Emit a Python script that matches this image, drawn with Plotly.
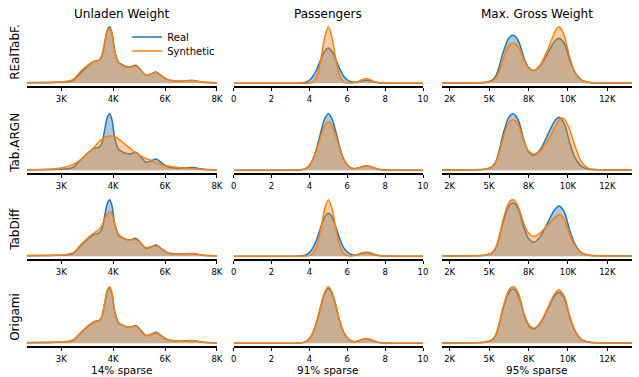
import plotly.graph_objects as go

# ---------------- data ----------------
MODELS = ["REalTabF.", "Tab.ARGN", "TabDiff", "Origami"]
COLUMNS = ["Unladen Weight", "Passengers", "Max. Gross Weight"]
SPARSITY = ["14% sparse", "91% sparse", "95% sparse"]

# Unladen Weight (thousands)
UW_X = [1.4, 2.3, 2.65, 3.0, 3.3, 3.55, 3.75, 3.9, 4.0, 4.1, 4.2, 4.28, 4.36, 4.45,
        4.58, 4.76, 4.96, 5.2, 5.37, 5.54, 5.72, 5.89, 6.06, 6.3, 6.74, 7.15, 7.53, 8.0]
UW_REAL = [0.5, 0.8, 1.0, 2.7, 11, 17.7, 21.7, 22.7, 26, 39, 52.7, 56, 50, 32.7,
           21, 17.7, 16, 17.7, 12.7, 7.7, 9.3, 11, 7.7, 3.3, 2, 2.7, 1, 0.3]
UW_REALTABF = [0.6, 0.9, 1.3, 3.5, 12.5, 18.5, 22, 23, 27, 40, 52, 54.5, 49, 32,
               20.5, 17, 15.5, 17, 12.5, 8, 9, 10.5, 7.5, 3.5, 2.2, 2.6, 1.1, 0.4]
UW_TABARGN = [0.3, 1.2, 2.4, 5.5, 11, 17.5, 23, 28, 30.5, 32.5, 33.8, 34, 34, 33.5,
              31, 27, 22.5, 17, 14, 11.7, 9.7, 7.5, 5.7, 4.2, 2.3, 1.4, 0.8, 0.3]
UW_TABDIFF = [0.6, 0.9, 1.2, 3.2, 12, 19, 23.5, 26, 30, 37, 42, 43.8, 42, 32,
              22, 18, 16, 16.5, 12.5, 8.5, 9.5, 10, 7.5, 3.5, 2.2, 2.3, 1, 0.3]
UW_ORIGAMI = [0.6, 0.9, 1.1, 3.0, 11.5, 18, 22, 23, 26.5, 40, 54, 57, 50.5, 32.5,
              20.5, 17.5, 16, 17, 12, 7.5, 8.8, 10.2, 7.4, 3.4, 2, 2.4, 1, 0.4]
UW_TICKS = [2.6, 4.4, 6.2, 8.0]
UW_TICKTEXT = ["3K", "4K", "6K", "8K"]

# Passengers
PS_X = [0, 1, 2, 3, 3.5, 3.8, 4.0, 4.2, 4.4, 4.6, 4.8, 5.0, 5.2, 5.4, 5.6, 5.8, 6.0,
        6.2, 6.4, 6.6, 6.8, 7.0, 7.2, 7.4, 7.6, 7.8, 8.0, 8.5, 9, 10]
PS_REAL = [0, 0, 0, 0.05, 0.2, 1.6, 4.7, 11.5, 23, 37.7, 50.7, 56, 50.7, 37.7, 23, 11.5, 5.5,
           2.3, 1.5, 2.4, 3.8, 4.5, 3.8, 2.3, 1.1, 0.4, 0.15, 0, 0, 0]
PS_REALTABF = [0, 0, 0, 0, 0, 0.05, 0.35, 2.6, 12, 37, 72, 90, 72, 37, 12, 2.6, 0.4,
               0.2, 1.0, 2.9, 5.6, 7, 5.6, 2.9, 1.0, 0.2, 0.05, 0, 0, 0]
PS_TABARGN = [0, 0, 0, 0.05, 0.3, 1.8, 5, 11.3, 21.3, 33.4, 43.8, 48, 43.8, 33.4, 21.3, 11.3, 5,
              2.2, 1.6, 2.3, 3.5, 4.2, 3.8, 2.6, 1.3, 0.5, 0.2, 0, 0, 0]
PS_TABDIFF = [0, 0, 0, 0, 0, 0.1, 0.75, 3.9, 14.1, 35.4, 61.3, 73.7, 61.3, 35.4, 14.1, 3.9, 0.9,
              0.4, 1.2, 2.8, 4.6, 5.6, 4.6, 2.8, 1.2, 0.4, 0.1, 0, 0, 0]
PS_ORIGAMI = [0, 0, 0, 0.05, 0.2, 1.5, 4.6, 11.6, 23.3, 38.5, 52, 57.7, 52, 38.5, 23.3, 11.6, 5.3,
              2.3, 1.5, 2.5, 4.0, 4.8, 4.0, 2.4, 1.1, 0.4, 0.15, 0, 0, 0]
PS_TICKS = [0, 2, 4, 6, 8, 10]

# Max. Gross Weight (thousands)
MG_X = [2.0, 4.0, 4.8, 5.2, 5.44, 5.65, 5.85, 6.0, 6.17, 6.35, 6.52, 6.7, 6.9, 7.05, 7.2,
        7.5, 7.83, 8.25, 8.67, 8.9, 9.1, 9.3, 9.44, 9.6, 9.8, 10.1, 10.44, 10.85, 11.27, 12.0, 14.06]
MG_REAL = [0.2, 0.3, 1, 3, 7.7, 17, 29, 36, 43, 47, 48.3, 46.5, 41, 34, 26,
           16, 12.7, 17.7, 29, 35.5, 41, 44.3, 45.3, 43.5, 39, 24, 11, 3.3, 1, 0.3, 0.1]
MG_REALTABF = [0.2, 0.3, 0.8, 2.2, 5.5, 12, 22, 29, 35.5, 39, 40.3, 39, 35, 30, 24,
               15.5, 12.7, 18.5, 32, 41, 49, 55, 56.7, 54, 46, 27, 11, 3, 0.9, 0.3, 0.1]
MG_TABARGN = [0.2, 0.3, 0.9, 2.8, 7, 15, 25.5, 32, 38.5, 42, 43.3, 42, 37.5, 31.5, 25,
              16.5, 13.7, 16.5, 24, 29.5, 35, 40, 43, 44.7, 43.5, 35, 21, 7, 1.8, 0.4, 0.1]
MG_TABDIFF = [0.2, 0.3, 1.1, 3.3, 8.5, 18.5, 31, 38.5, 46, 50, 51, 49, 43, 36.5, 29.5,
              21, 17.9, 21, 27.5, 31, 34, 36.5, 37.5, 36.5, 32.5, 20, 9.5, 3, 0.9, 0.3, 0.1]
MG_ORIGAMI = [0.2, 0.3, 1, 3.2, 8.2, 18, 30.5, 37.5, 44.8, 49, 50.2, 48.5, 42.8, 35.5, 27.3,
              17, 13.4, 18.3, 30, 37, 42.8, 46.3, 47.3, 45.5, 40.7, 25, 11.5, 3.5, 1.1, 0.3, 0.1]
MG_TICKS = [2.5, 5, 7.5, 10, 12.5]
MG_TICKTEXT = ["2K", "5K", "8K", "10K", "12K"]

COL_X = [UW_X, PS_X, MG_X]
COL_REAL = [UW_REAL, PS_REAL, MG_REAL]
COL_SYN = [
    [UW_REALTABF, UW_TABARGN, UW_TABDIFF, UW_ORIGAMI],
    [PS_REALTABF, PS_TABARGN, PS_TABDIFF, PS_ORIGAMI],
    [MG_REALTABF, MG_TABARGN, MG_TABDIFF, MG_ORIGAMI],
]
COL_RANGE = [[1.4, 8.0], [0, 10], [2.0, 14.06]]
COL_TICKS = [(UW_TICKS, UW_TICKTEXT), (PS_TICKS, [str(t) for t in PS_TICKS]), (MG_TICKS, MG_TICKTEXT)]

# ---------------- layout geometry (pixels) ----------------
W, H = 639, 377
COL_PX = [(24, 217), (234, 426), (445, 638)]
ROW_PX = [(24, 86), (111, 173), (197, 259), (284, 346)]
ROW_LABEL_Y = [52, 143, 229, 317]

BLUE = "#1f77b4"
ORANGE = "#ff7f0e"
BLUE_FILL = "rgba(31,119,180,0.38)"
ORANGE_FILL = "rgba(255,127,14,0.38)"
FONT = "DejaVu Sans"

fig = go.Figure()
layout = {}
for r in range(4):
    for c in range(3):
        idx = r * 3 + c + 1
        sfx = "" if idx == 1 else str(idx)
        xs = COL_X[c]
        real = COL_REAL[c]
        syn = COL_SYN[c][r]
        fig.add_trace(go.Scatter(
            x=xs, y=real, mode="lines", line=dict(color=BLUE, width=1.5, shape="spline", smoothing=0.8),
            fill="tozeroy", fillcolor=BLUE_FILL, name="Real", showlegend=False,
            xaxis="x" + sfx, yaxis="y" + sfx))
        fig.add_trace(go.Scatter(
            x=xs, y=syn, mode="lines", line=dict(color=ORANGE, width=1.5, shape="spline", smoothing=0.8),
            fill="tozeroy", fillcolor=ORANGE_FILL, name="Synthetic", showlegend=False,
            xaxis="x" + sfx, yaxis="y" + sfx))
        m = max(max(real), max(syn))
        x0, x1 = COL_PX[c]
        y0, y1 = ROW_PX[r]
        tv, tt = COL_TICKS[c]
        layout["xaxis" + sfx] = dict(
            domain=[x0 / W, x1 / W], anchor="y" + sfx, range=COL_RANGE[c],
            showline=True, linecolor="black", linewidth=1.6, showgrid=False, zeroline=False,
            ticks="outside", ticklen=3.5, tickwidth=0.8, tickcolor="black",
            tickvals=tv, ticktext=tt, tickfont=dict(family=FONT, size=8.5, color="black"))
        layout["yaxis" + sfx] = dict(
            domain=[1 - y1 / H, 1 - y0 / H], anchor="x" + sfx, range=[-0.05 * m, 1.05 * m],
            visible=False, showgrid=False, zeroline=False)

# legend entries (line samples only, like the reference)
fig.add_trace(go.Scatter(x=[None], y=[None], mode="lines", line=dict(color=BLUE, width=1.5),
                         name="Real", legend="legend"))
fig.add_trace(go.Scatter(x=[None], y=[None], mode="lines", line=dict(color=ORANGE, width=1.5),
                         name="Synthetic", legend="legend2"))

ann = []
for c in range(3):
    cx = (COL_PX[c][0] + COL_PX[c][1]) / 2 / W
    ann.append(dict(text=COLUMNS[c], x=cx, y=1 - 13.5 / H, xref="paper", yref="paper",
                    showarrow=False, font=dict(family=FONT, size=12, color="black"),
                    xanchor="center", yanchor="middle"))
    ann.append(dict(text=SPARSITY[c], x=cx, y=1 - 370 / H, xref="paper", yref="paper",
                    showarrow=False, font=dict(family=FONT, size=10.5, color="black"),
                    xanchor="center", yanchor="middle"))
for r in range(4):
    ann.append(dict(text=MODELS[r], x=12 / W, y=1 - ROW_LABEL_Y[r] / H, xref="paper", yref="paper",
                    showarrow=False, textangle=-90, font=dict(family=FONT, size=12, color="black"),
                    xanchor="center", yanchor="middle"))

leg_common = dict(xanchor="left", yanchor="middle", bgcolor="rgba(0,0,0,0)",
                  font=dict(family=FONT, size=10, color="black"), itemwidth=30)
fig.update_layout(
    width=W, height=H, margin=dict(l=0, r=0, t=0, b=0),
    paper_bgcolor="white", plot_bgcolor="white",
    annotations=ann, hovermode=False,
    legend=dict(x=126 / W, y=1 - 37 / H, **leg_common),
    legend2=dict(x=126 / W, y=1 - 51 / H, **leg_common),
    **layout)

fig.write_html("out.html", config={"displayModeBar": False, "staticPlot": False},
               post_script="document.body.style.margin='0px';")
